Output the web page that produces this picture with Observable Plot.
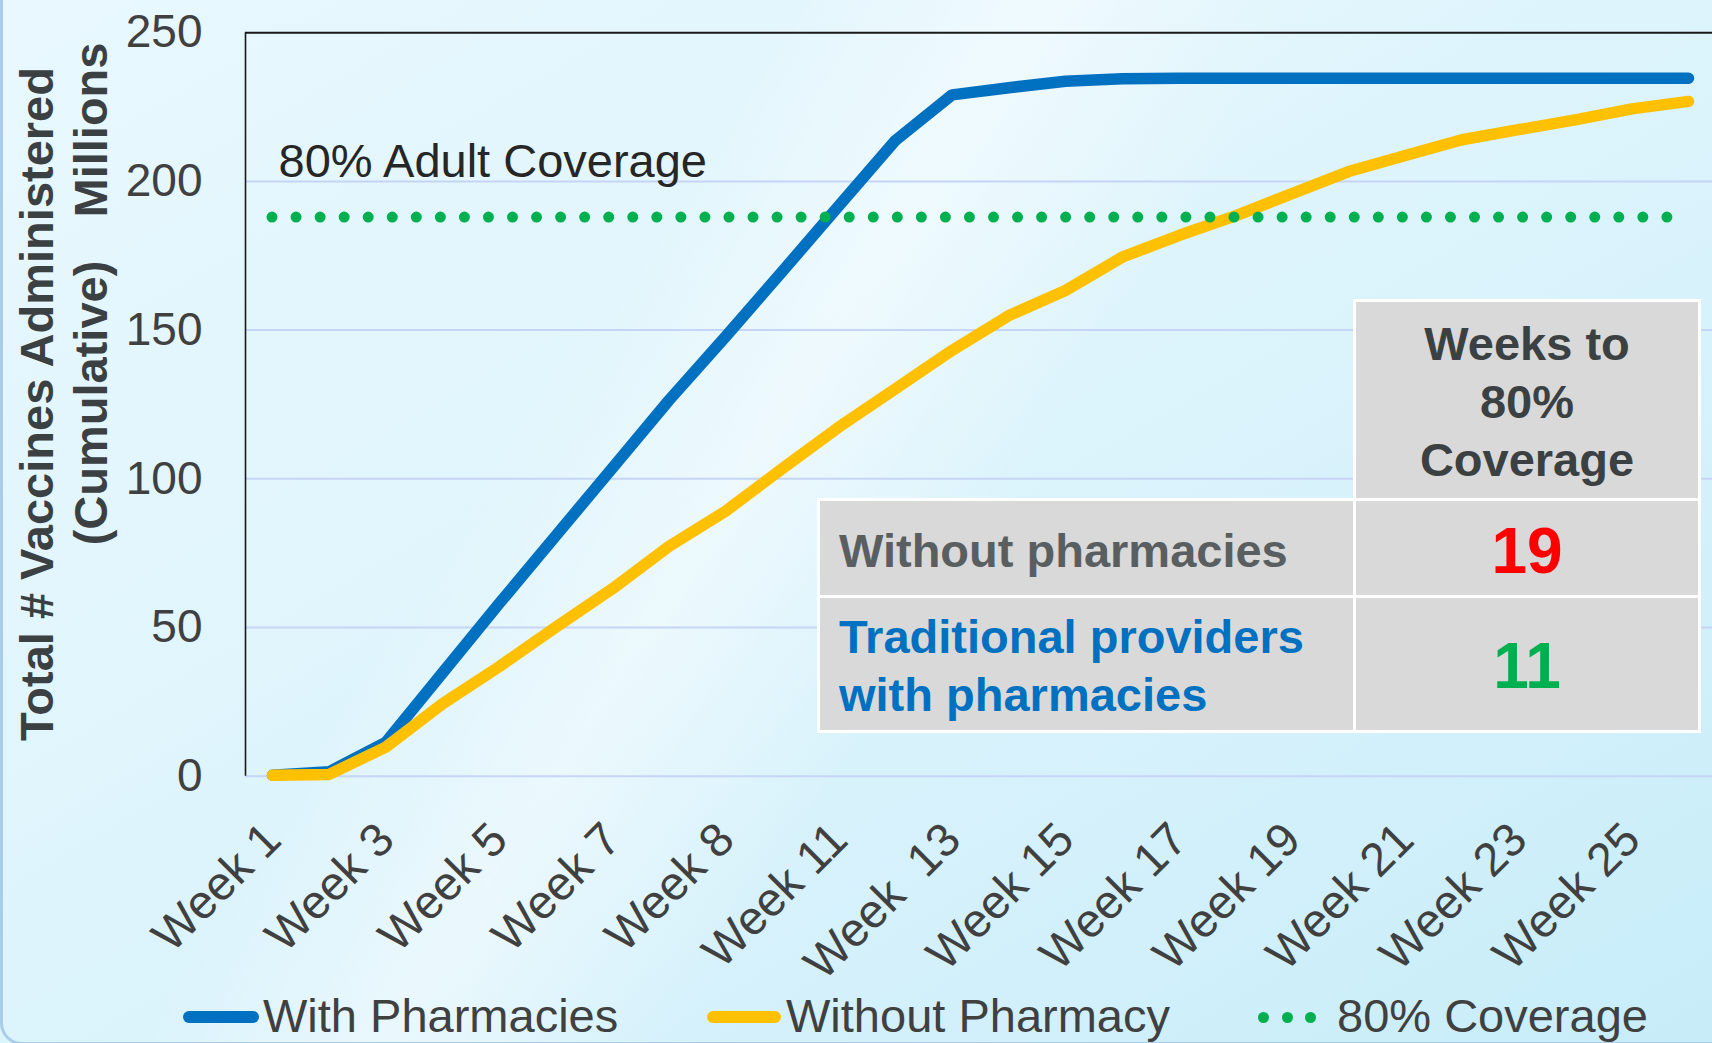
<!DOCTYPE html>
<html>
<head>
<meta charset="utf-8">
<script src="https://cdn.jsdelivr.net/npm/d3@7"></script>
<script src="https://cdn.jsdelivr.net/npm/@observablehq/plot@0.6"></script>
<style>
  html, body { margin: 0; padding: 0; }
  body {
    width: 1712px; height: 1043px; overflow: hidden; position: relative;
    font-family: "Liberation Sans", Arial, sans-serif;
    background:
      linear-gradient(122deg, rgba(255,255,255,0) 0%, rgba(255,255,255,0) 33%, rgba(255,255,255,0.45) 44%, rgba(255,255,255,0) 56%),
      linear-gradient(150deg, #e8f8fe 0%, #e0f5fc 40%, #d5f1fb 70%, #c7edf9 100%);
  }
  #panel { position: absolute; left: 0; top: -30px; width: 1780px; height: 1075px; border: 3px solid #a9cde8; border-radius: 22px; box-sizing: border-box; pointer-events: none; }
  #chart { position: absolute; left: 0; top: 0; }
  #chart svg text { white-space: pre; }
  .cell { position: absolute; background: #d9d9d9; border: 3px solid #ffffff; box-sizing: border-box; }
  .ttext { position: absolute; font-weight: bold; white-space: nowrap; }
  #legend { position: absolute; left: 0; top: 985px; width: 1712px; height: 58px; }
  .lg-text { position: absolute; top: 7px; font-size: 47px; line-height: 47px; color: #404040; white-space: nowrap; }
  .lg-line { position: absolute; top: 26px; height: 12px; border-radius: 6px; }
  .lg-dot { position: absolute; top: 26.5px; width: 11px; height: 11px; border-radius: 50%; background: #00b050; }
</style>
</head>
<body>
<div id="panel"></div>
<div id="chart"></div>
<div id="table"></div>
<div id="legend"></div>
<script>
// ---- data ----
const weeks = [1, 2, 3, 4, 5, 6, 7, 8, 9, 10, 11, 12, 13, 14, 15, 16, 17, 18, 19, 20, 21, 22, 23, 24, 25, 26];
const withPharmacies = [0.3, 1.5, 11.4, 34.7, 58.0, 80.8, 103.6, 126.4, 147.8, 169.7, 191.8, 213.8, 229.1, 231.5, 233.7, 234.5, 234.7, 234.7, 234.7, 234.7, 234.7, 234.7, 234.7, 234.7, 234.7, 234.7];
const withoutPharmacy = [0.3, 0.6, 9.8, 24.3, 36.8, 50.1, 63.0, 77.3, 89.1, 103.4, 117.4, 130.3, 143.2, 154.9, 163.3, 174.5, 181.8, 188.4, 195.9, 203.3, 208.7, 214.0, 217.4, 220.7, 224.4, 226.9];
const coverageTarget = 188;
const xTickWeeks = [1, 3, 5, 7, 9, 11, 13, 15, 17, 19, 21, 23, 25];
const xTickLabels = ["Week 1", "Week 3", "Week 5", "Week 7", "Week 8", "Week 11", "Week  13", "Week 15", "Week 17", "Week 19", "Week 21", "Week 23", "Week 25"];
const yTicks = [0, 50, 100, 150, 200, 250];
const gridValues = [0, 50, 100, 150, 200];
const seriesNames = ["With Pharmacies", "Without Pharmacy", "80% Coverage"];
const seriesColors = ["#0070c0", "#ffc000", "#00b050"];
const tableHeader = ["Weeks to", "80%", "Coverage"];
const tableLabels = [["Without pharmacies"], ["Traditional providers", "with pharmacies"]];
const weeksTo80 = [19, 11];
const tableLabelColors = ["#595f61", "#0070c0"];
const tableValueColors = ["#ff0000", "#00b050"];

const tickData = xTickWeeks.map((w, i) => ({week: w, label: xTickLabels[i]}));
const FONT = "'Liberation Sans', Arial, sans-serif";

const chart = Plot.plot({
  width: 1712,
  height: 985,
  marginLeft: 245,
  marginRight: 0,
  marginTop: 32.2,
  marginBottom: 209.3,
  style: {background: "transparent", fontFamily: FONT, color: "#404040", overflow: "visible"},
  x: {type: "linear", domain: [weeks[0], weeks[weeks.length - 1]], range: [272, 1688], axis: null},
  y: {domain: [0, 250]},
  marks: [
    Plot.ruleY(gridValues, {stroke: "#c6d4f6", strokeWidth: 2}),
    Plot.ruleY([250], {stroke: "#1a1a1a", strokeWidth: 2}),
    Plot.axisY({ticks: yTicks, tickSize: 0, tickPadding: 43, fontSize: 46, label: null, fill: "#404040"}),
    Plot.lineY(withPharmacies, {x: weeks, stroke: seriesColors[0], strokeWidth: 11.5, strokeLinecap: "round", strokeLinejoin: "round"}),
    Plot.lineY(withoutPharmacy, {x: weeks, stroke: seriesColors[1], strokeWidth: 11.5, strokeLinecap: "round", strokeLinejoin: "round"}),
    Plot.ruleY([coverageTarget], {x1: () => weeks[0], x2: () => weeks[weeks.length - 1], stroke: seriesColors[2], strokeWidth: 11, strokeDasharray: "0 24.05", strokeLinecap: "round"}),
    Plot.text(tickData, {x: "week", text: "label", frameAnchor: "bottom", rotate: -45, textAnchor: "end", lineAnchor: "bottom", dx: 11, dy: 66, fontSize: 47, fill: "#404040"}),
    Plot.text(["80% Adult Coverage"], {text: d => d, frameAnchor: "top-left", dx: 33, dy: 144, textAnchor: "start", lineAnchor: "bottom", fontSize: 47, fill: "#262626"})
  ]
});
document.getElementById("chart").appendChild(chart);

// axis line and titles
const svg = d3.select(chart);
const ys = chart.scale("y");
svg.append("line")
  .attr("x1", 245.5).attr("x2", 245.5)
  .attr("y1", ys.apply(250)).attr("y2", ys.apply(0))
  .attr("stroke", "#1a1a1a").attr("stroke-width", 1.6);
const titleStyle = sel => sel.attr("text-anchor", "middle").attr("font-size", 47).attr("font-weight", "bold")
  .attr("fill", "#3b4043").attr("font-family", FONT);
svg.append("text").attr("transform", "translate(53,404) rotate(-90)").call(titleStyle).text("Total # Vaccines Administered");
svg.append("text").attr("transform", "translate(107,403) rotate(-90)").call(titleStyle).text("(Cumulative)");
svg.append("text").attr("transform", "translate(107,130) rotate(-90)").call(titleStyle).text("Millions");

// table overlay
const table = document.getElementById("table");
function addCell(l, t, w, h) {
  const d = document.createElement("div");
  d.className = "cell";
  Object.assign(d.style, {left: l + "px", top: t + "px", width: w + "px", height: h + "px"});
  table.appendChild(d);
}
addCell(1353, 299, 348, 202);
addCell(817, 498, 539, 100);
addCell(1353, 498, 348, 100);
addCell(817, 595, 539, 138);
addCell(1353, 595, 348, 138);
function addText(html, css) {
  const d = document.createElement("div");
  d.className = "ttext";
  d.innerHTML = html;
  Object.assign(d.style, css);
  table.appendChild(d);
}
addText(tableHeader.join("<br>"), {left: "1356px", width: "342px", textAlign: "center", top: "315.4px", fontSize: "47px", lineHeight: "58px", color: "#3b4142"});
const labelTops = [521.9, 608.3];
const valueTops = [518.8, 634.1];
tableLabels.forEach((lines, i) => {
  addText(lines.join("<br>"), {left: "839px", top: labelTops[i] + "px", fontSize: "47px", lineHeight: "57.4px", color: tableLabelColors[i]});
  addText(String(weeksTo80[i]), {left: "1356px", width: "342px", textAlign: "center", top: valueTops[i] + "px", fontSize: "64px", lineHeight: "64px", color: tableValueColors[i]});
});

// legend
const legend = document.getElementById("legend");
function el(cls, css, txt) {
  const d = document.createElement("div");
  d.className = cls;
  Object.assign(d.style, css);
  if (txt) d.textContent = txt;
  legend.appendChild(d);
}
el("lg-line", {left: "183px", width: "76px", background: seriesColors[0]});
el("lg-text", {left: "263px"}, seriesNames[0]);
el("lg-line", {left: "707px", width: "74px", background: seriesColors[1]});
el("lg-text", {left: "786px"}, seriesNames[1]);
[1258, 1281.5, 1305].forEach(x => el("lg-dot", {left: x + "px", background: seriesColors[2]}));
el("lg-text", {left: "1337px"}, seriesNames[2]);
</script>
</body>
</html>
